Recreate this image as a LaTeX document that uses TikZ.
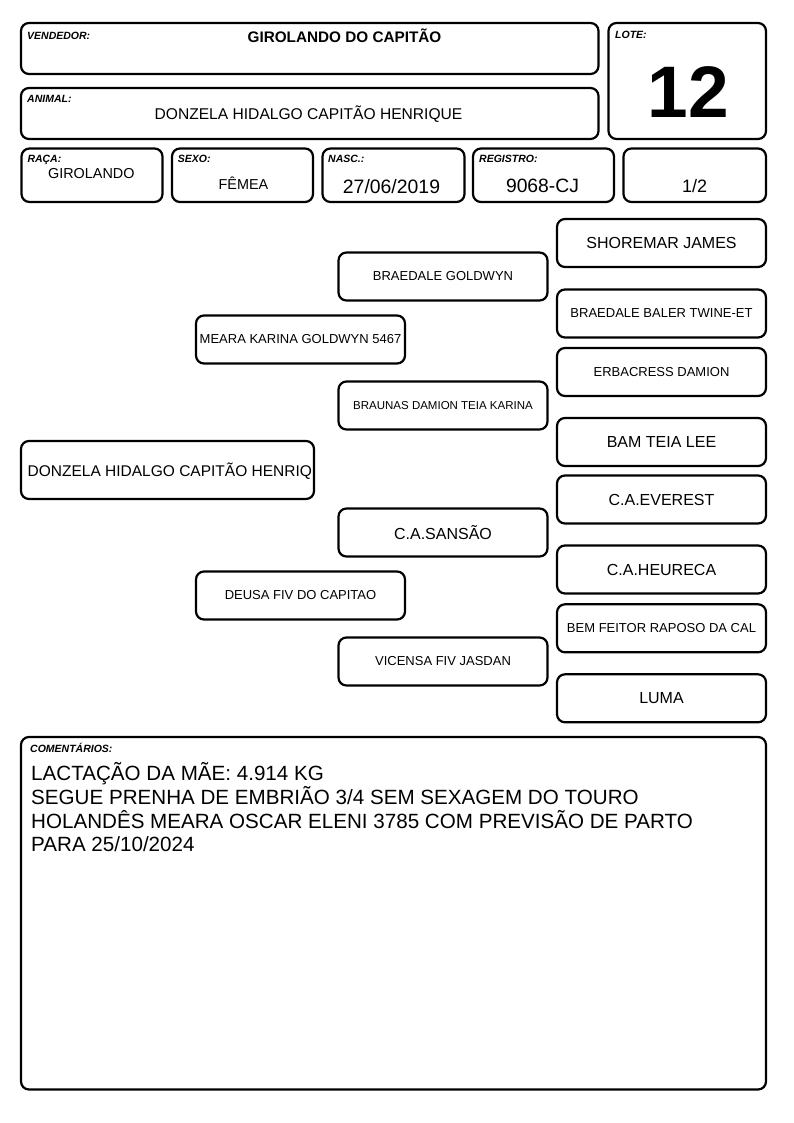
\documentclass[tikz,border=0pt]{standalone}
\usepackage{fontspec}
\setmainfont{Liberation Sans}
\usetikzlibrary{positioning,calc}

\newcommand{\fsz}[1]{\fontsize{#1}{#1}\selectfont}

\begin{document}
\begin{tikzpicture}[x=1pt,y=-1pt]

\tikzstyle{cell} = [rectangle, draw=black, line width=2.2pt, rounded corners=8pt, inner sep=0pt, text centered]
\tikzstyle{ped} = [cell, minimum width=209, minimum height=48, font=\fsz{13}]
\tikzstyle{pedbig} = [ped, font=\fsz{16}]
\tikzstyle{tag} = [anchor=base west, inner sep=0pt, font=\fsz{10.5}\bfseries\itshape]
\tikzstyle{val} = [anchor=base, inner sep=0pt]

\useasboundingbox (0,0) rectangle (794,1123);

%% ------------
%% -- HEADER --
%% ------------

% VENDEDOR
\node (vendedor_box) [cell, minimum width=577.5, minimum height=51] at (309.75,48.5) {};
\node [tag] at (27,39.3) {VENDEDOR:};
\node (vendedor) [val, font=\fsz{15.3}\bfseries] at (344.5,42.7) {GIROLANDO DO CAPITÃO};

% LOTE
\node (lote_box) [cell, minimum width=157.5, minimum height=116] at (687.25,81) {};
\node [tag] at (615,39) {LOTE:};
\node (lote) [val, font=\fsz{73}\bfseries] at (688.5,117.7) {12};

% ANIMAL
\node (animal_box) [cell, minimum width=577.5, minimum height=51] at (309.75,113.5) {};
\node [tag] at (27,102.7) {ANIMAL:};
\node (animal) [val, font=\fsz{15.6}] at (308.5,120) {DONZELA HIDALGO CAPITÃO HENRIQUE};

% DADOS
\node (raca_box) [cell, minimum width=141, minimum height=53.5] at (92,175.25) {};
\node [tag] at (27.3,162.7) {RAÇA:};
\node (raca) [val, font=\fsz{14.4}] at (91.3,178.3) {GIROLANDO};

\node (sexo_box) [cell, minimum width=141, minimum height=53.5] at (242.5,175.25) {};
\node [tag] at (177.7,162.7) {SEXO:};
\node (sexo) [val, font=\fsz{14.4}] at (243.5,189.3) {FÊMEA};

\node (nasc_box) [cell, minimum width=142, minimum height=53.5] at (393.5,175.25) {};
\node [tag] at (328,162.7) {NASC.:};
\node (nasc) [val, font=\fsz{19.4}] at (391.5,194) {27/06/2019};

\node (registro_box) [cell, minimum width=141, minimum height=53.5] at (543.5,175.25) {};
\node [tag] at (479,162.7) {REGISTRO:};
\node (registro) [val, font=\fsz{19.3}] at (542.5,192.7) {9068-CJ};

\node (parte_box) [cell, minimum width=142.5, minimum height=53.5] at (694.75,175.25) {};
\node (parte) [val, font=\fsz{18}] at (694.5,192.7) {1/2};

%% --------------
%% -- PEDIGREE --
%% --------------

% ANIMAL
\node (filho_box) [cell, minimum width=293, minimum height=58] at (167.5,470) {};
\node (filho) [anchor=base west, inner sep=0pt, font=\fsz{15.5}] at (27.5,476) {DONZELA HIDALGO CAPITÃO HENRIQ};

% PAIS
\node (pai) [ped] at (300.5,339.5) {MEARA KARINA GOLDWYN 5467};
\node (mae) [ped] at (300.5,595.5) {DEUSA FIV DO CAPITAO};

% AVOS
\node (avo_pp) [ped] at (443,276.5) {BRAEDALE GOLDWYN};
\node (avo_pm) [ped, font=\fsz{11.5}] at (443,405.5) {BRAUNAS DAMION TEIA KARINA};
\node (avo_mp) [pedbig] at (443,532.5) {C.A.SANSÃO};
\node (avo_mm) [ped] at (443,661.5) {VICENSA FIV JASDAN};

% BISAVOS
\node (bis_ppp) [pedbig] at (661.5,243) {SHOREMAR JAMES};
\node (bis_ppm) [ped] at (661.5,313.5) {BRAEDALE BALER TWINE-ET};
\node (bis_pmp) [ped] at (661.5,372) {ERBACRESS DAMION};
\node (bis_pmm) [pedbig] at (661.5,442) {BAM TEIA LEE};
\node (bis_mpp) [pedbig] at (661.5,499.5) {C.A.EVEREST};
\node (bis_mpm) [pedbig] at (661.5,569.5) {C.A.HEURECA};
\node (bis_mmp) [ped] at (661.5,628.3) {BEM FEITOR RAPOSO DA CAL};
\node (bis_mmm) [pedbig] at (661.5,698.3) {LUMA};

%% -----------------
%% -- COMENTARIOS --
%% -----------------

\node (obs_box) [cell, minimum width=745, minimum height=352.5] at (393.5,913.25) {};
\node [tag] at (30,752.7) {COMENTÁRIOS:};
% base = last line
\node (obs) [anchor=base west, inner sep=0pt, align=left, font=\fontsize{20.6}{23.7}\selectfont] at (31,851.8)
  {LACTAÇÃO DA MÃE: 4.914 KG\\SEGUE PRENHA DE EMBRIÃO 3/4 SEM SEXAGEM DO TOURO\\HOLANDÊS MEARA OSCAR ELENI 3785 COM PREVISÃO DE PARTO\\PARA 25/10/2024};

\end{tikzpicture}
\end{document}
